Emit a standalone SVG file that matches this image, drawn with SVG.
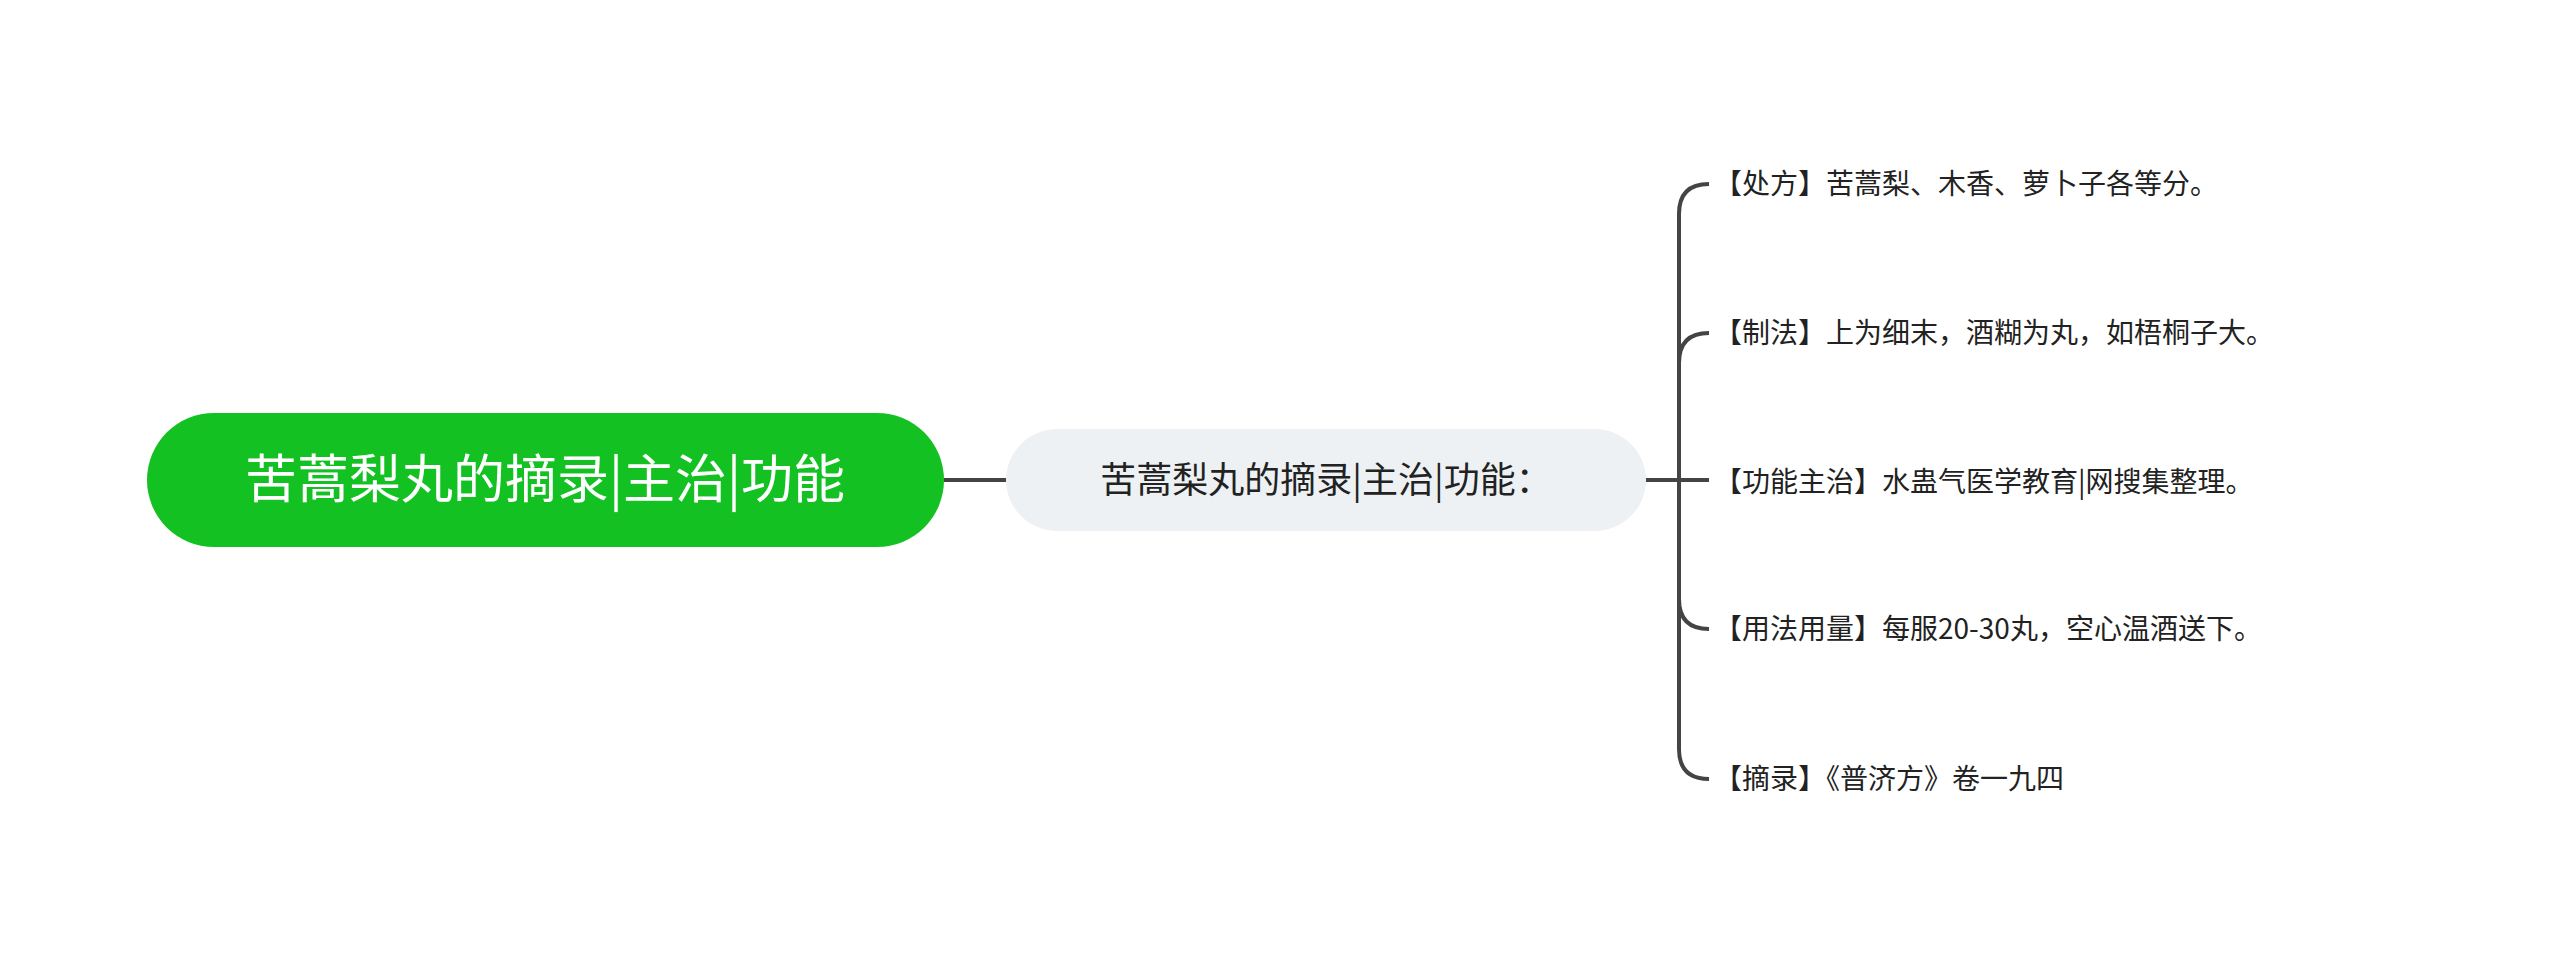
<svg xmlns="http://www.w3.org/2000/svg" width="2560" height="960" viewBox="0 0 2560 960">
<style>
.t{font-family:"Noto Sans CJK SC","Noto Sans",sans-serif;}
.c{fill:none;stroke:#444;stroke-width:4;}
.leaf{font-size:28px;fill:#222;}
</style>
<rect width="2560" height="960" fill="#fff"/>
<g id="connectors">
<path class="c" d="M944 480 L1006 480"/>
<path class="c" d="M1646 480 L1679 480"/>
<path class="c" d="M1679 480 L1679 214 Q1679 184 1709 184"/>
<path class="c" d="M1679 480 L1679 363 Q1679 333 1709 333"/>
<path class="c" d="M1650 480 L1709 480"/>
<path class="c" d="M1679 480 L1679 599 Q1679 629 1709 629"/>
<path class="c" d="M1679 480 L1679 749 Q1679 779 1709 779"/>
</g>
<g id="root">
<rect x="147" y="413" width="797" height="134" rx="67" fill="#13c122"/>
<text class="t" x="545" y="498" font-size="52" fill="#fff" text-anchor="middle">苦蒿梨丸的摘录|主治|功能</text>
</g>
<g id="mid">
<rect x="1006" y="429" width="640" height="102" rx="51" fill="#eef1f4"/>
<text class="t" x="1326" y="493" font-size="36" fill="#222" text-anchor="middle">苦蒿梨丸的摘录|主治|功能：</text>
</g>
<g id="leaf1"><text class="t leaf" x="1714" y="194">【处方】苦蒿梨、木香、萝卜子各等分。</text></g>
<g id="leaf2"><text class="t leaf" x="1714" y="343">【制法】上为细末，酒糊为丸，如梧桐子大。</text></g>
<g id="leaf3"><text class="t leaf" x="1714" y="492">【功能主治】水蛊气医学教育|网搜集整理。</text></g>
<g id="leaf4"><text class="t leaf" x="1714" y="639">【用法用量】每服20-30丸，空心温酒送下。</text></g>
<g id="leaf5"><text class="t leaf" x="1714" y="789">【摘录】《普济方》卷一九四</text></g>
</svg>
